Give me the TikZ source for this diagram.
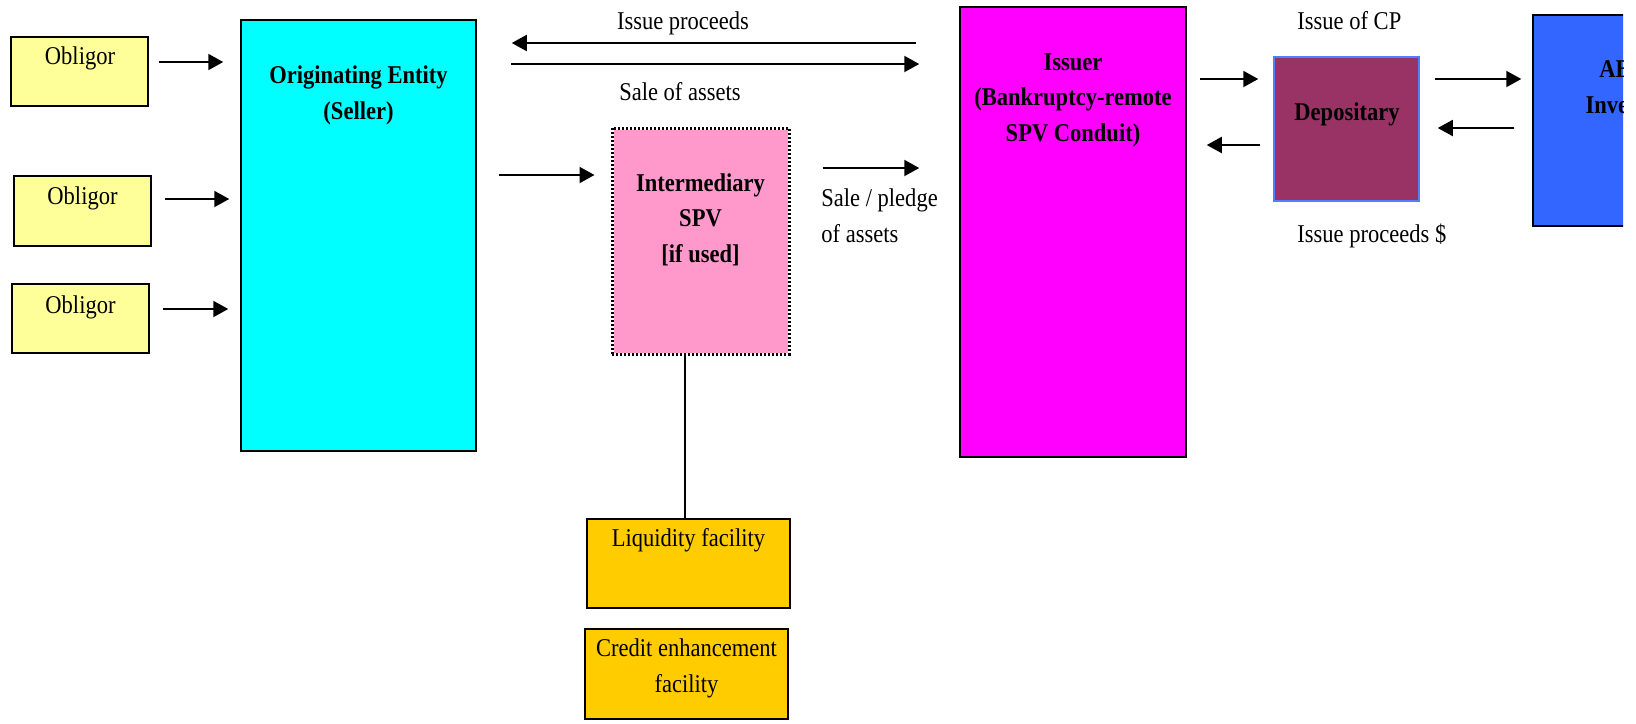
\documentclass[tikz,border=0pt]{standalone}
\usepackage{fontspec}
\setmainfont[FakeStretch=0.88]{Liberation Serif}
\usetikzlibrary{arrows.meta,calc}
\definecolor{obligcol}{HTML}{FFFF99}
\definecolor{origcol}{HTML}{00FFFF}
\definecolor{spvcol}{HTML}{FF99CC}
\definecolor{issuercol}{HTML}{FF00FF}
\definecolor{facilcol}{HTML}{FFCC00}
\definecolor{depcol}{HTML}{993366}
\definecolor{depline}{HTML}{4D80FF}
\definecolor{invcol}{HTML}{3366FF}
\begin{document}
\begin{tikzpicture}[x=0.5pt,y=-0.5pt,
  every node/.style={font=\fontsize{12.8pt}{17.75pt}\selectfont},
  box/.style={draw=black, line width=0.75pt, inner sep=0pt},
  txt/.style={anchor=base, align=center, inner sep=0pt},
  btxt/.style={txt, font=\fontsize{12.8pt}{17.75pt}\selectfont\bfseries},
  arr/.style={-{Triangle[length=7.5pt,width=8pt]}, line width=1pt}]
\useasboundingbox (0,0) rectangle (1636,723);

% boxes
\node[box, fill=obligcol, minimum width=68.5pt, minimum height=34.5pt] (ob1) at (79.5,71.5) {};
\node[box, fill=obligcol, minimum width=68.5pt, minimum height=35pt] (ob2) at (82.5,211) {};
\node[box, fill=obligcol, minimum width=68.5pt, minimum height=34.5pt] (ob3) at (80.5,318.5) {};
\node[box, fill=origcol, minimum width=117.5pt, minimum height=215.5pt] (orig) at (358.5,235.5) {};
\node[draw=white, line width=1.5pt, fill=spvcol, inner sep=0pt, minimum width=88.5pt, minimum height=113pt,
      postaction={draw=black, line width=1.5pt, dash pattern=on 1pt off 1pt}] (spv) at (700.5,241) {};
\node[box, fill=facilcol, minimum width=101.5pt, minimum height=44.5pt] (liq) at (688.5,563.5) {};
\node[box, fill=facilcol, minimum width=101.5pt, minimum height=45pt] (cred) at (686.5,674) {};
\node[box, fill=issuercol, minimum width=113pt, minimum height=225pt] (issuer) at (1073,232) {};
\node[draw=depline, line width=0.75pt, fill=depcol, inner sep=0pt, minimum width=72.5pt, minimum height=72pt] (dep) at (1346.5,129) {};
\begin{scope}
\clip (0,0) rectangle (1623,723);
\node[box, fill=invcol, minimum width=95pt, minimum height=105.5pt] (inv) at (1628,120.5) {};
\node[btxt] (invt) at (1630,113) {ABCP\\Investors};
\end{scope}

% texts in boxes (base = baseline of last line)
\node[txt] (ob1t) at (80,64) {Obligor};
\node[txt] (ob2t) at (82.5,204) {Obligor};
\node[txt] (ob3t) at (80.5,313) {Obligor};
\node[btxt] (origt) at (358.5,119) {Originating Entity\\(Seller)};
\node[btxt] (spvt) at (700.5,262) {Intermediary\\SPV\\{}[if used]};
\node[txt] (liqt) at (688.5,546) {Liquidity facility};
\node[txt] (credt) at (686.5,692) {Credit enhancement\\facility};
\node[btxt] (issuert) at (1073,141) {Issuer\\(Bankruptcy-remote\\SPV Conduit)};
\node[btxt] (dept) at (1347,120) {Depositary};

% connectors
\draw[arr] ($(ob1.east)+(10,-9.5)$) -- ($(orig.west |- ob1.east)+(-17,-9.5)$);
\draw[arr] ($(ob2.east)+(13,-12)$) -- ($(orig.west |- ob2.east)+(-11,-12)$);
\draw[arr] ($(ob3.east)+(13,-9.5)$) -- ($(orig.west |- ob3.east)+(-12,-9.5)$);

\draw[arr] ($(issuer.west |- 0,43)+(-43,0)$) -- ($(orig.east |- 0,43)+(35,0)$);
\draw[arr] ($(orig.east |- 0,64)+(34,0)$) -- ($(issuer.west |- 0,64)+(-40,0)$);
\draw[arr] ($(orig.east |- 0,175)+(22,0)$) -- ($(spv.west |- 0,175)+(-16,0)$);
\draw[arr] ($(spv.east |- 0,168)+(32,0)$) -- ($(issuer.west |- 0,168)+(-40,0)$);
\coordinate (lq) at ($(liq.north)+(-3.5,0)$);
\draw[line width=0.75pt] (lq |- spv.south) -- (lq);

\draw[arr] ($(issuer.east |- 0,79)+(13,0)$) -- ($(dep.west |- 0,79)+(-15,0)$);
\draw[arr] ($(dep.west |- 0,145)+(-13,0)$) -- ($(issuer.east |- 0,145)+(20,0)$);
\draw[arr] ($(dep.east |- 0,79)+(15,0)$) -- ($(inv.west |- 0,79)+(-11,0)$);
\draw[arr] ($(inv.west |- 0,128)+(-18,0)$) -- ($(dep.east |- 0,128)+(18,0)$);

% connector labels
\node[txt] (l1) at (683,29) {Issue proceeds};
\node[txt] (l2) at (680,100) {Sale of assets};
\node[txt, anchor=base west, align=left] (l3) at (821,242) {Sale / pledge\\of assets};
\node[txt, anchor=base west] (l4) at (1297,29) {Issue of CP};
\node[txt, anchor=base west] (l5) at (1297,242) {Issue proceeds \$};
\end{tikzpicture}
\end{document}
